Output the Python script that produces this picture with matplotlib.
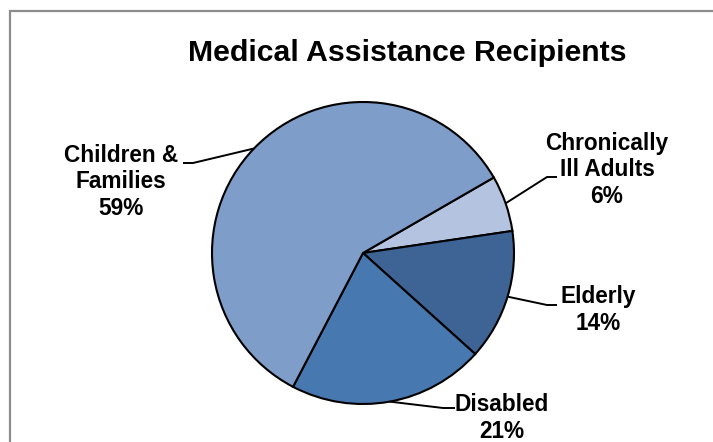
import numpy as np
import matplotlib
matplotlib.use("Agg")
import matplotlib.pyplot as plt
from matplotlib.patches import Rectangle

# slice order runs clockwise from the upper right
groups = ["Chronically\nIll Adults", "Elderly", "Disabled", "Children &\nFamilies"]
shares = [6, 14, 21, 59]
colors = ["#B4C4E0", "#3E6496", "#4878B0", "#7E9DC9"]

# label box centres and leader elbow / end points (pixel space, y down)
label_xy = [(607, 170), (598, 310), (502, 418), (121, 182)]
elbow_xy = [(547, 177), (547, 305), (443, 408), (193, 163)]
end_xy = [(557, 177), (557, 305), (455, 408), (183, 163)]

W, H = 713, 442
CX, CY, R = 363, 253, 151

plt.rcParams["font.family"] = ["Liberation Sans", "DejaVu Sans"]
fig = plt.figure(figsize=(W / 100, H / 100), dpi=100)
ax = fig.add_axes([0, 0, 1, 1])


def py(y):
    return H - y


START = 30
wedges, _ = ax.pie(shares, colors=colors, startangle=START, counterclock=False,
                   center=(CX, py(CY)), radius=R,
                   wedgeprops=dict(edgecolor="black", linewidth=1.5))

# leaders leave the rim at each wedge's mid angle
for w, txt, lab, elb, end, pct in zip(wedges, groups, label_xy, elbow_xy, end_xy, shares):
    mid = np.deg2rad((w.theta1 + w.theta2) / 2)
    sx, sy = CX + R * np.cos(mid), py(CY) + R * np.sin(mid)
    ax.plot([sx, elb[0], end[0]], [sy, py(elb[1]), py(end[1])],
            color="black", lw=1.4, solid_capstyle="butt")
    ax.text(lab[0], py(lab[1]), f"{txt}\n{pct}%", ha="center", va="center",
            fontsize=16.3, fontweight="bold", linespacing=1.2)

ax.text(407, py(53), "Medical Assistance Recipients", ha="center", va="center",
        fontsize=21.8, fontweight="bold")

# chart area border (only top and left edges fall inside the image)
ax.add_patch(Rectangle((9.5, -20), W + 20, py(11) + 20, fill=False,
                       edgecolor="#8C8C8C", lw=1.6))

ax.set_xlim(0, W)
ax.set_ylim(0, H)
ax.set_aspect("equal")
ax.axis("off")
fig.savefig("out.png", dpi=100)
